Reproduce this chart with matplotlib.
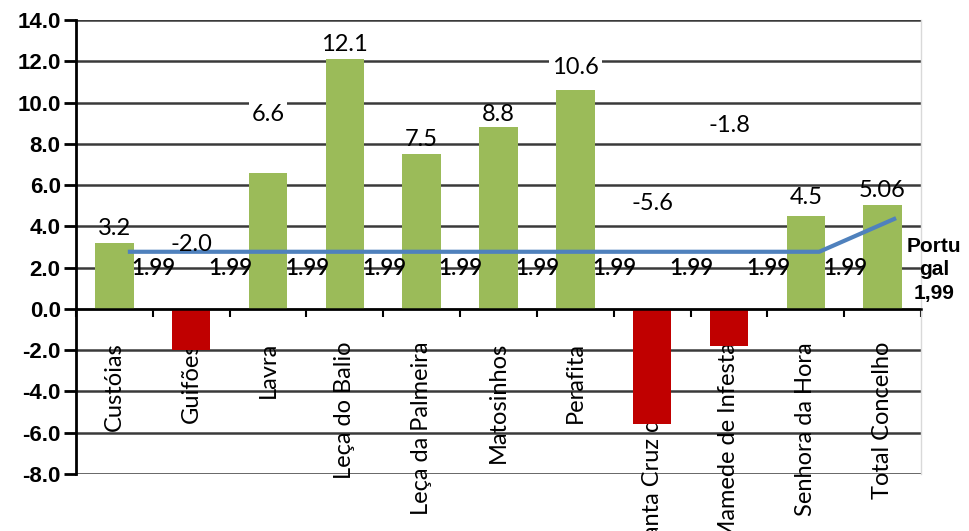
import numpy as np
import matplotlib.pyplot as plt

# ---- data ----
categories = ['Custóias', 'Guifões', 'Lavra', 'Leça do Balio', 'Leça da Palmeira',
              'Matosinhos', 'Perafita', 'Santa Cruz do Bispo', 'S. Mamede de Infesta',
              'Senhora da Hora', 'Total Concelho']
variation = [3.2, -2.0, 6.6, 12.1, 7.5, 8.8, 10.6, -5.6, -1.8, 4.5, 5.06]
value_labels = ['3.2', '-2.0', '6.6', '12.1', '7.5', '8.8', '10.6', '-5.6', '-1.8', '4.5', '5.06']

# Portugal line as drawn in the picture (plotted height), and its labels
portugal_line = [2.77, 2.77, 2.77, 2.77, 2.77, 2.77, 2.77, 2.77, 2.77, 2.77, 4.4]
portugal_labels = ['1.99', '1.99', '1.99', '1.99', '1.99', '1.99', '1.99', '1.99', '1.99', '1.99']
portugal_value = 1.99

# ---- layout of the data labels (moved by hand in the original) ----
label_y = [3.92, 3.1, 9.4, 12.8, 8.2, 9.4, 11.7, 5.1, 8.9, 5.4, 5.75]
label_box = [False, False, True, False, False, False, True, False, True, False, False]

GREEN = '#9BBB59'
RED = '#C00000'
BLUE = '#4F81BD'
GRID = '#3a3a3a'

plt.rcParams['font.family'] = ['Lato', 'DejaVu Sans']

fig = plt.figure(figsize=(9.69, 5.31), dpi=100)
ax = fig.add_axes([0.0784, 0.1073, 0.8721, 0.855])

x = np.arange(len(categories))
colors = [GREEN if v >= 0 else RED for v in variation]
ax.bar(x, variation, width=0.5, color=colors, zorder=2)

# line series, shifted a little to the right like in the original
ax.plot(x + 0.175, portugal_line, color=BLUE, lw=3, zorder=3, solid_capstyle='butt')
for i, lab in enumerate(portugal_labels):
    ax.text(i + 0.51, portugal_value - 0.05, lab, ha='center', va='center',
            fontsize=16, fontweight='semibold', color='black', zorder=4)
ax.text(10.67, 1.9, 'Portu\ngal\n1,99', ha='center', va='center', fontsize=15,
        fontweight='bold', family='Liberation Sans', linespacing=1.3,
        clip_on=False, zorder=4)

# data labels
for i, (lab, yy, box) in enumerate(zip(value_labels, label_y, label_box)):
    kw = {}
    if box:
        kw['bbox'] = dict(facecolor='white', edgecolor='none', pad=2)
    ax.text(i, yy, lab, ha='center', va='center', fontsize=17, zorder=4, **kw)

# category labels, drawn under the bars (cut off at the bottom as in the original)
for i, cat in enumerate(categories):
    ax.text(i, -1.6, cat, rotation=90, ha='center', va='top', fontsize=17,
            clip_on=False, zorder=1)

ax.set_xlim(-0.5, 10.5)
ax.set_ylim(-8, 14)
yt = np.arange(-8, 15, 2)
ax.set_yticks(yt)
ax.set_yticklabels([f'{v:.1f}' for v in yt], fontsize=16, fontweight='bold',
                   family='Liberation Sans')
ax.yaxis.grid(True, color=GRID, lw=1.8)
ax.set_axisbelow(True)

ax.set_xticks(np.arange(-0.5, 11, 1))
ax.set_xticklabels([])
ax.tick_params(axis='x', direction='out', length=6, width=1.5, color='black')
ax.tick_params(axis='y', direction='out', length=9, width=2, color='black', pad=2)

ax.spines['bottom'].set_position(('data', 0))
ax.spines['bottom'].set_color('black')
ax.spines['bottom'].set_linewidth(1.8)
ax.spines['bottom'].set_zorder(3)
ax.spines['left'].set_color('black')
ax.spines['left'].set_linewidth(2)
ax.spines['top'].set_visible(False)
ax.spines['right'].set_color('#d9d9d9')
ax.spines['right'].set_linewidth(1)

fig.savefig('out.png', dpi=100)
